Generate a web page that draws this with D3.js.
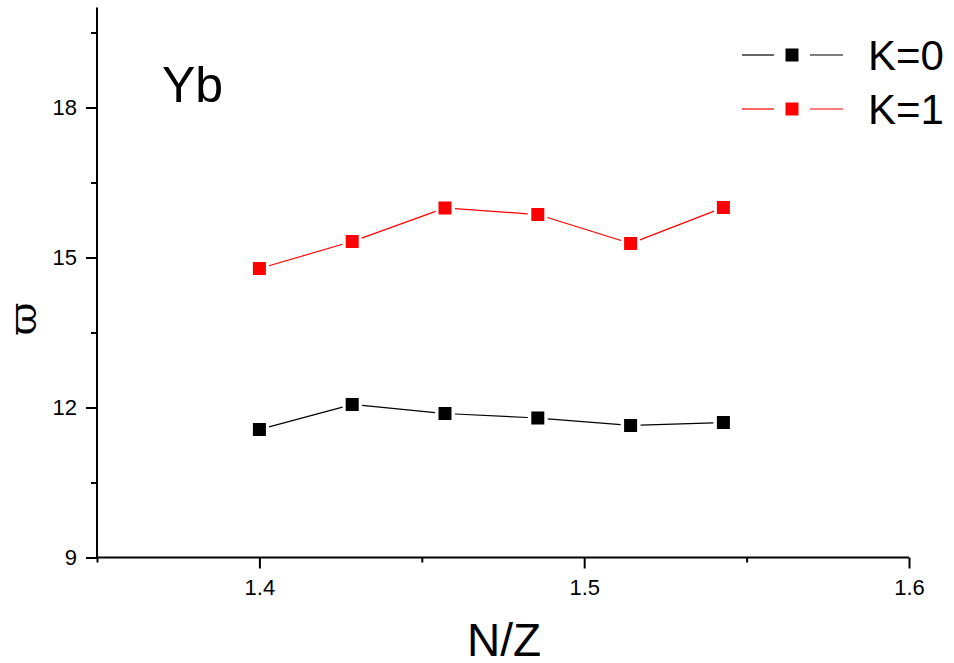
<!DOCTYPE html>
<html>
<head>
<meta charset="utf-8">
<script src="https://cdn.jsdelivr.net/npm/d3@7"></script>
<style>
  html, body { margin: 0; padding: 0; background: #fff; }
  svg { display: block; font-family: Arial, "Liberation Sans", sans-serif; }
</style>
</head>
<body>
<svg id="chart" width="954" height="663"></svg>
<script>
// N/Z ratios for Yb isotopes (Z = 70, N = 98..108)
const nz = [98 / 70, 100 / 70, 102 / 70, 104 / 70, 106 / 70, 108 / 70];
const omegaK0 = [11.56, 12.06, 11.88, 11.79, 11.64, 11.70];
const omegaK1 = [14.78, 15.32, 15.99, 15.86, 15.28, 16.00];
const seriesNames = ["K=0", "K=1"];
const seriesColors = ["#000000", "#ff0000"];
const xMajorTicks = [1.4, 1.5, 1.6];
const xMinorTicks = [1.35, 1.45, 1.55];
const yMajorTicks = [9, 12, 15, 18];
const yMinorTicks = [10.5, 13.5, 16.5, 19.5];

const svg = d3.select("#chart");
const x = d3.scaleLinear().domain([1.35, 1.6]).range([97, 909]);
const y = d3.scaleLinear().domain([9, 20]).range([557.5, 7.5]);

const series = [omegaK0, omegaK1].map((vals, i) => ({
  name: seriesNames[i],
  color: seriesColors[i],
  points: nz.map((v, j) => ({ x: v, y: vals[j] }))
}));

// Axes
const axisG = svg.append("g").attr("stroke", "#000").attr("stroke-width", 2);
axisG.append("line").attr("x1", x(1.35)).attr("x2", x(1.35)).attr("y1", y(20)).attr("y2", y(9));
axisG.append("line").attr("x1", x(1.35)).attr("x2", x(1.6)).attr("y1", y(9)).attr("y2", y(9));

const xAxis = svg.append("g").attr("transform", `translate(0,${y(9)})`)
  .call(d3.axisBottom(x).tickValues(xMajorTicks).tickSize(11).tickPadding(11)
    .tickFormat(d3.format(".1f")));
const xMinor = svg.append("g").attr("transform", `translate(0,${y(9)})`)
  .call(d3.axisBottom(x).tickValues(xMinorTicks).tickSize(5).tickFormat(""));
const yAxis = svg.append("g").attr("transform", `translate(${x(1.35)},0)`)
  .call(d3.axisLeft(y).tickValues(yMajorTicks).tickSize(11).tickPadding(9)
    .tickFormat(d3.format("d")));
const yMinor = svg.append("g").attr("transform", `translate(${x(1.35)},0)`)
  .call(d3.axisLeft(y).tickValues(yMinorTicks).tickSize(6).tickFormat(""));

[xAxis, xMinor, yAxis, yMinor].forEach(g => {
  g.select(".domain").remove();
  g.selectAll(".tick line").attr("stroke", "#000").attr("stroke-width", 2);
  g.selectAll(".tick text").attr("fill", "#000").attr("font-size", 22)
    .attr("font-family", "Arial, 'Liberation Sans', sans-serif");
});

// Connecting segments, broken around each marker
const gap = 10;
function brokenSegments(pts) {
  const segs = [];
  for (let i = 0; i < pts.length - 1; i++) {
    const x1 = x(pts[i].x), y1 = y(pts[i].y), x2 = x(pts[i + 1].x), y2 = y(pts[i + 1].y);
    const len = Math.hypot(x2 - x1, y2 - y1);
    const ux = (x2 - x1) / len, uy = (y2 - y1) / len;
    segs.push({ x1: x1 + ux * gap, y1: y1 + uy * gap, x2: x2 - ux * gap, y2: y2 - uy * gap });
  }
  return segs;
}

const marker = 13;
series.forEach(s => {
  const g = svg.append("g");
  g.selectAll("line").data(brokenSegments(s.points)).join("line")
    .attr("x1", d => d.x1).attr("y1", d => d.y1)
    .attr("x2", d => d.x2).attr("y2", d => d.y2)
    .attr("stroke", s.color).attr("stroke-width", 1.2);
  g.selectAll("rect").data(s.points).join("rect")
    .attr("x", d => x(d.x) - marker / 2).attr("y", d => y(d.y) - marker / 2)
    .attr("width", marker).attr("height", marker)
    .attr("fill", s.color);
});

// Legend
const legendRows = [55, 109];
series.forEach((s, i) => {
  const g = svg.append("g").attr("transform", `translate(0,${legendRows[i]})`);
  g.append("line").attr("x1", 742).attr("x2", 774).attr("y1", 0).attr("y2", 0)
    .attr("stroke", s.color).attr("stroke-width", 1.2);
  g.append("line").attr("x1", 810).attr("x2", 843).attr("y1", 0).attr("y2", 0)
    .attr("stroke", s.color).attr("stroke-width", 1.2);
  g.append("rect").attr("x", 792 - 6.5).attr("y", -6.5).attr("width", 13).attr("height", 13)
    .attr("fill", s.color);
  g.append("text").attr("x", 868).attr("y", 15).attr("font-size", 42)
    .attr("fill", "#000").text(s.name);
});

// Element label
svg.append("text").attr("x", 162).attr("y", 102).attr("font-size", 50)
  .attr("fill", "#000").text("Yb");

// Axis titles
svg.append("text").attr("x", 504).attr("y", 656).attr("text-anchor", "middle")
  .attr("font-size", 46).attr("fill", "#000").text("N/Z");
svg.append("text").attr("transform", "translate(36,319) rotate(-90)")
  .attr("text-anchor", "middle").attr("font-size", 40)
  .attr("font-family", "'DejaVu Serif', 'Liberation Serif', serif")
  .attr("fill", "#000").text("ϖ");
</script>
</body>
</html>
